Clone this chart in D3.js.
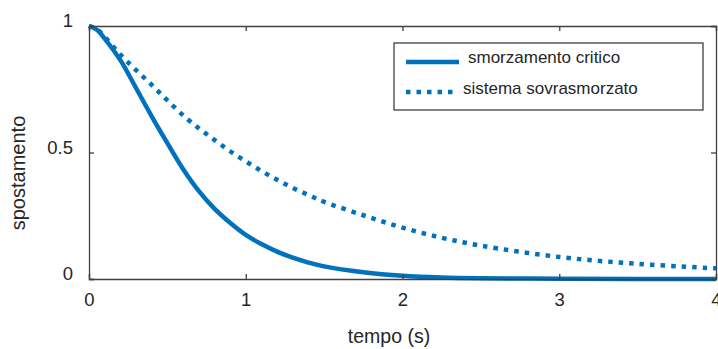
<!DOCTYPE html>
<html>
<head>
<meta charset="utf-8">
<script src="https://cdn.jsdelivr.net/npm/d3@7"></script>
<style>
  body { margin: 0; background: #fff; }
  text { font-family: "Liberation Sans", Arial, sans-serif; fill: #262626; }
</style>
</head>
<body>
<script>
// values
var tempo = [0, 0.05, 0.1, 0.2, 0.3, 0.4, 0.5, 0.6, 0.7, 0.8, 0.9, 1.0, 1.1, 1.2, 1.3, 1.4, 1.5, 1.75, 2.0, 2.25, 2.5, 3.0, 3.5, 4.0];
var critico = [1, 0.985, 0.95, 0.865, 0.755, 0.643, 0.537, 0.435, 0.348, 0.278, 0.222, 0.174, 0.138, 0.108, 0.084, 0.065, 0.05, 0.027, 0.013, 0.006, 0.003, 0.001, 0, 0];
var sovra = [1, 0.988, 0.957, 0.887, 0.826, 0.767, 0.706, 0.647, 0.596, 0.55, 0.505, 0.465, 0.427, 0.392, 0.36, 0.332, 0.305, 0.252, 0.203, 0.163, 0.132, 0.087, 0.06, 0.042];
var xTicks = [0, 1, 2, 3, 4];
var yTicks = [0, 0.5, 1];
var yTickLabels = ["0", "0.5", "1"];
var legendLabels = ["smorzamento critico", "sistema sovrasmorzato"];

var width = 718, height = 349;
// plot box (note: "top" is taken by window.top)
var mLeft = 89, mRight = 716, mTop = 26, mBottom = 279;
var blu = "#0072bd", grigio = "#404040";

var svg = d3.select("body").append("svg")
    .attr("width", width)
    .attr("height", height);

var x = d3.scaleLinear().domain([0, 4]).range([mLeft, mRight]);
var y = d3.scaleLinear().domain([0, 1]).range([mBottom, mTop]);

// curves
var line = d3.line()
    .x(function(d) { return x(d[0]); })
    .y(function(d) { return y(d[1]); })
    .curve(d3.curveCatmullRom.alpha(0.5));

svg.append("clipPath").attr("id", "clip")
  .append("rect").attr("x", mLeft - 3).attr("y", mTop - 3)
  .attr("width", mRight - mLeft + 3).attr("height", mBottom - mTop + 6);

var g = svg.append("g").attr("clip-path", "url(#clip)");

g.append("path")
    .datum(d3.zip(tempo, sovra))
    .attr("d", line)
    .attr("fill", "none")
    .attr("stroke", blu)
    .attr("stroke-width", 4.5)
    .attr("stroke-dasharray", "4.5,6");

g.append("path")
    .datum(d3.zip(tempo, critico))
    .attr("d", line)
    .attr("fill", "none")
    .attr("stroke", blu)
    .attr("stroke-width", 4.5);

// axes (ticks inside, like matlab)
var xBottom = d3.axisBottom(x).tickValues(xTicks).tickSize(-5).tickPadding(14).tickFormat(d3.format("d"));
var xTop = d3.axisTop(x).tickValues(xTicks).tickSize(-5).tickFormat("");
var yLeft = d3.axisLeft(y).tickValues(yTicks).tickSize(-5).tickPadding(16)
    .tickFormat(function(d, i) { return yTickLabels[i]; });
var yRight = d3.axisRight(y).tickValues(yTicks).tickSize(-5).tickFormat("");

function stile(sel) {
  sel.select(".domain").attr("stroke", grigio).attr("stroke-width", 1.3);
  sel.selectAll(".tick line").attr("stroke", grigio).attr("stroke-width", 1.3);
  sel.selectAll(".tick text").style("font-size", "18.5px").attr("fill", "#262626");
}

svg.append("g").attr("transform", "translate(0," + mBottom + ")").call(xBottom).call(stile);
svg.append("g").attr("transform", "translate(0," + mTop + ")").call(xTop).call(stile);
svg.append("g").attr("transform", "translate(" + mLeft + ",0)").call(yLeft).call(stile)
  .selectAll(".tick text").attr("dy", "0.04em");
svg.append("g").attr("transform", "translate(" + mRight + ",0)").call(yRight).call(stile);

// axis labels
svg.append("text")
    .attr("x", 389)
    .attr("y", 343)
    .attr("text-anchor", "middle")
    .style("font-size", "19.5px")
    .text("tempo (s)");

svg.append("text")
    .attr("transform", "translate(25,173) rotate(-90)")
    .attr("text-anchor", "middle")
    .style("font-size", "20px")
    .text("spostamento");

// legend
var leg = svg.append("g");
leg.append("rect")
    .attr("x", 394).attr("y", 43)
    .attr("width", 309).attr("height", 67)
    .attr("fill", "#fff")
    .attr("stroke", grigio)
    .attr("stroke-width", 1.3);

var legY = [62, 92];
leg.selectAll("line.leg")
    .data(legendLabels)
  .enter().append("line")
    .attr("x1", 406).attr("x2", function(d, i) { return i == 0 ? 459 : 457; })
    .attr("y1", function(d, i) { return legY[i]; })
    .attr("y2", function(d, i) { return legY[i]; })
    .attr("stroke", blu)
    .attr("stroke-width", 4.5)
    .attr("stroke-dasharray", function(d, i) { return i == 0 ? null : "4.5,6"; });

leg.selectAll("text.leg")
    .data(legendLabels)
  .enter().append("text")
    .attr("x", function(d, i) { return i == 0 ? 468 : 463; })
    .attr("y", function(d, i) { return i == 0 ? 63 : 94; })
    .style("font-size", "17px")
    .text(function(d) { return d; });
</script>
</body>
</html>
